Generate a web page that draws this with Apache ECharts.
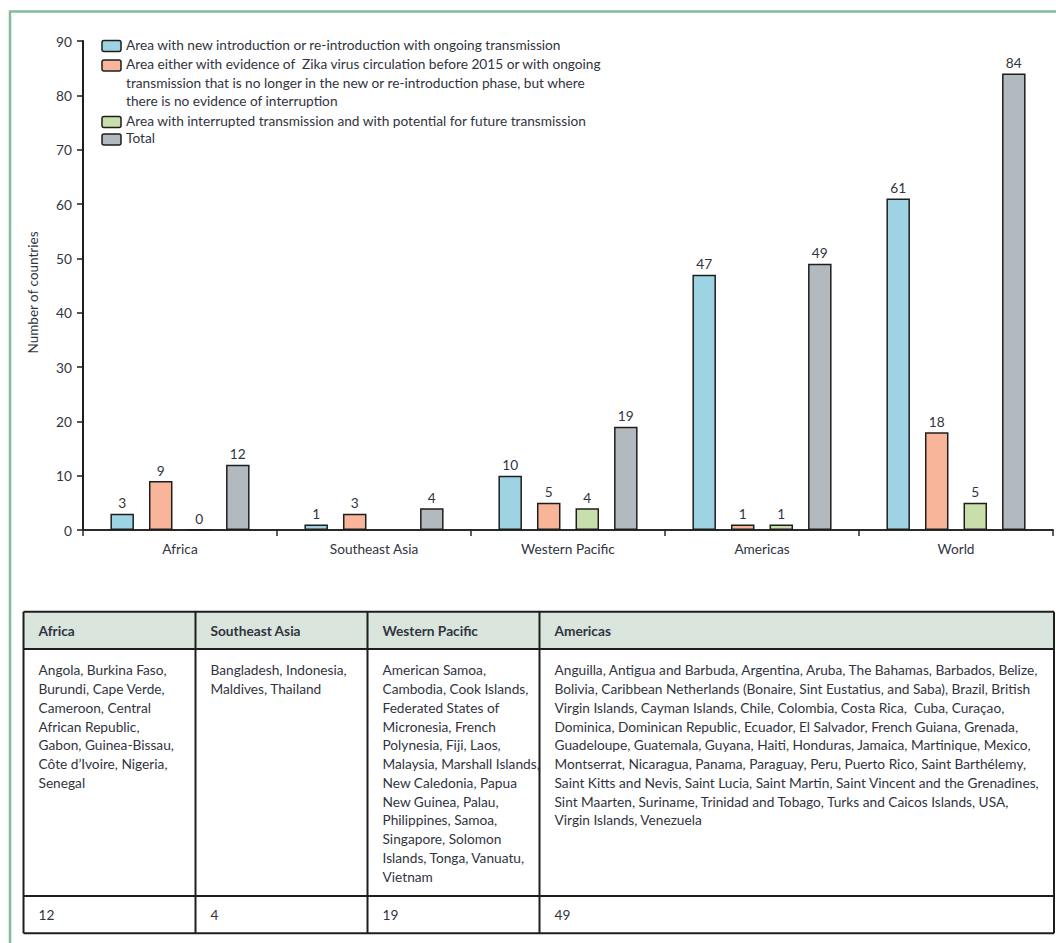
<!DOCTYPE html>
<html>
<head>
<meta charset="utf-8">
<title>Zika virus transmission by region</title>
<script src="https://cdn.jsdelivr.net/npm/echarts@6/dist/echarts.min.js"></script>
<style>
  html, body { margin: 0; padding: 0; background: #fff; }
  #chart { width: 1056px; height: 943px; }
</style>
</head>
<body>
<div id="chart"></div>
<script>
// Regions on the category axis
const regions = ['Africa', 'Southeast Asia', 'Western Pacific', 'Americas', 'World'];

// Number of countries per transmission category
const newIntroduction = [3, 1, 10, 47, 61];
const ongoingEndemic = [9, 3, 5, 1, 18];
const interrupted = [0, null, 4, 1, 5];
const totalCountries = [12, 4, 19, 49, 84];

// Value axis range
const yMin = 0;
const yMax = 90;
const yStep = 10;

// Legend entries (one array of text lines per series)
const legendLines = [
  ['Area with new introduction or re-introduction with ongoing transmission'],
  ['Area either with evidence of  Zika virus circulation before 2015 or with ongoing',
   'transmission that is no longer in the new or re-introduction phase, but where',
   'there is no evidence of interruption'],
  ['Area with interrupted transmission and with potential for future transmission'],
  ['Total']
];
const seriesColors = ['#9ed3e3', '#f8b599', '#c9dfab', '#b3babf'];

// Table under the chart
const tableHeaders = ['Africa', 'Southeast Asia', 'Western Pacific', 'Americas'];
const tableCountries = [
  ['Angola, Burkina Faso,', 'Burundi, Cape Verde,', 'Cameroon, Central', 'African Republic,',
   'Gabon, Guinea-Bissau,', 'Côte d’Ivoire, Nigeria,', 'Senegal'],
  ['Bangladesh, Indonesia,', 'Maldives, Thailand'],
  ['American Samoa,', 'Cambodia, Cook Islands,', 'Federated States of', 'Micronesia, French',
   'Polynesia, Fiji, Laos,', 'Malaysia, Marshall Islands,', 'New Caledonia, Papua',
   'New Guinea, Palau,', 'Philippines, Samoa,', 'Singapore, Solomon',
   'Islands, Tonga, Vanuatu,', 'Vietnam'],
  ['Anguilla, Antigua and Barbuda, Argentina, Aruba, The Bahamas, Barbados, Belize,',
   'Bolivia, Caribbean Netherlands (Bonaire, Sint Eustatius, and Saba), Brazil, British',
   'Virgin Islands, Cayman Islands, Chile, Colombia, Costa Rica,  Cuba, Curaçao,',
   'Dominica, Dominican Republic, Ecuador, El Salvador, French Guiana, Grenada,',
   'Guadeloupe, Guatemala, Guyana, Haiti, Honduras, Jamaica, Martinique, Mexico,',
   'Montserrat, Nicaragua, Panama, Paraguay, Peru, Puerto Rico, Saint Barthélemy,',
   'Saint Kitts and Nevis, Saint Lucia, Saint Martin, Saint Vincent and the Grenadines,',
   'Sint Maarten, Suriname, Trinidad and Tobago, Turks and Caicos Islands, USA,',
   'Virgin Islands, Venezuela']
];
const tableTotals = ['12', '4', '19', '49'];

const FONT = 'Lato, "Open Sans", sans-serif';
const FS = 13.7;
const TEXT = '#31343e';
const INK = '#1e1e1e';

// ---- legend drawn as graphic blocks ----
const legendIconX = 102, legendTextX = 126;
const legendRowY = [46, 65.5, 122, 139.5];   // icon centres, first line of each entry
const LEG_LH = 18.3;
const legendGraphics = [];
legendLines.forEach((lines, i) => {
  legendGraphics.push({
    type: 'rect',
    shape: { x: legendIconX, y: legendRowY[i] - 5.5, width: 19, height: 11, r: 2 },
    style: { fill: seriesColors[i], stroke: INK, lineWidth: 1.5 }
  });
  legendGraphics.push({
    type: 'text',
    x: legendTextX,
    y: legendRowY[i] - 1.5 - LEG_LH / 2,
    style: {
      text: lines.join('\n'),
      font: FS + 'px ' + FONT,
      fill: TEXT,
      lineHeight: LEG_LH,
      verticalAlign: 'top',
      align: 'left'
    }
  });
});

// ---- table drawn as graphic elements ----
const colEdges = [23.5, 195.5, 367.5, 539.5, 1054];
const rowEdges = [611.7, 649, 896, 933.3];
const TAB_LH = 18.73;
const tableGraphics = [];
tableGraphics.push({
  type: 'rect',
  shape: { x: colEdges[0], y: rowEdges[0], width: colEdges[4] - colEdges[0], height: rowEdges[1] - rowEdges[0] },
  style: { fill: '#d9e5dd' }
});
rowEdges.forEach(y => {
  tableGraphics.push({
    type: 'line',
    shape: { x1: colEdges[0], y1: y, x2: colEdges[4], y2: y },
    style: { stroke: INK, lineWidth: 2 }
  });
});
colEdges.forEach(x => {
  tableGraphics.push({
    type: 'line',
    shape: { x1: x, y1: rowEdges[0], x2: x, y2: rowEdges[3] },
    style: { stroke: INK, lineWidth: 2 }
  });
});
tableHeaders.forEach((h, c) => {
  const x = colEdges[c] + 15;
  tableGraphics.push({
    type: 'text', x: x, y: (rowEdges[0] + rowEdges[1]) / 2,
    style: { text: h, font: 'bold ' + FS + 'px ' + FONT, fill: TEXT, verticalAlign: 'middle' }
  });
  tableGraphics.push({
    type: 'text', x: x, y: 670 - TAB_LH / 2,
    style: { text: tableCountries[c].join('\n'), font: FS + 'px ' + FONT, fill: TEXT,
             lineHeight: TAB_LH, verticalAlign: 'top' }
  });
  tableGraphics.push({
    type: 'text', x: x, y: (rowEdges[2] + rowEdges[3]) / 2,
    style: { text: tableTotals[c], font: FS + 'px ' + FONT, fill: TEXT, verticalAlign: 'middle' }
  });
});

// ---- green frame around the figure ----
const frame = {
  type: 'polyline',
  shape: { points: [[10, 943], [10, 11.5], [1056, 11.5]] },
  style: { stroke: '#82bc9d', lineWidth: 2.5, fill: null }
};

const labelStyle = {
  show: true, position: 'top', distance: 4,
  fontFamily: FONT, fontSize: FS, color: TEXT
};

function barSeries(name, data, color) {
  return {
    name: name,
    type: 'bar',
    data: data,
    barWidth: 23.5,
    barGap: '64%',
    itemStyle: { color: color, borderColor: INK, borderWidth: 1.5 },
    label: labelStyle
  };
}

const chart = echarts.init(document.getElementById('chart'), null, { renderer: 'svg' });
chart.setOption({
  backgroundColor: '#fff',
  animation: false,
  textStyle: { fontFamily: FONT },
  grid: { left: 83, right: 3, top: 41, bottom: 413, containLabel: false },
  xAxis: {
    type: 'category',
    data: regions,
    axisLine: { lineStyle: { color: '#2a2a2a', width: 2 } },
    axisTick: { show: true, length: 6, lineStyle: { color: '#2a2a2a', width: 1.5 } },
    axisLabel: { margin: 11, fontSize: FS, color: TEXT, fontFamily: FONT }
  },
  yAxis: {
    type: 'value',
    min: yMin, max: yMax, interval: yStep,
    name: 'Number of countries',
    nameLocation: 'middle',
    nameRotate: 90,
    nameGap: 43,
    nameTextStyle: { fontSize: 13.5, color: TEXT, fontFamily: FONT, padding: [0, 14, 0, 0] },
    splitLine: { show: false },
    axisLine: { show: true, lineStyle: { color: '#1e1e1e', width: 2 } },
    axisTick: { show: true, length: 6, lineStyle: { color: '#1e1e1e', width: 1.5 } },
    axisLabel: { margin: 11, fontSize: FS, color: TEXT, fontFamily: FONT }
  },
  series: [
    barSeries(legendLines[0].join(' '), newIntroduction, seriesColors[0]),
    barSeries(legendLines[1].join(' '), ongoingEndemic, seriesColors[1]),
    barSeries(legendLines[2].join(' '), interrupted, seriesColors[2]),
    barSeries(legendLines[3].join(' '), totalCountries, seriesColors[3])
  ],
  graphic: [frame].concat(legendGraphics, tableGraphics)
});
</script>
</body>
</html>
